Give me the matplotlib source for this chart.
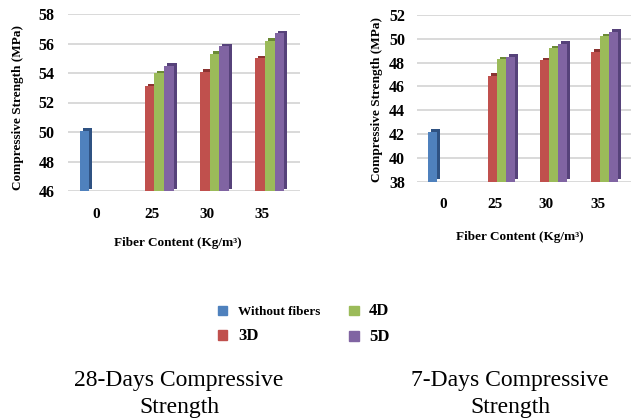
import matplotlib
matplotlib.use("Agg")
import matplotlib.pyplot as plt
import matplotlib.transforms as mtransforms
import numpy as np

plt.rcParams["font.family"] = ["Liberation Serif", "DejaVu Serif"]

# --- Daten ---
fiber_content = ["0", "25", "30", "35"]
series_names = ["Without fibers", "3D", "4D", "5D"]

# 28 Tage
d28_without = [50.1]          # nur bei 0 kg/m3
d28_3d = [53.1, 54.1, 55.0]   # bei 25 / 30 / 35
d28_4d = [54.0, 55.3, 56.2]
d28_5d = [54.5, 55.8, 56.7]

# 7 Tage
d7_without = [42.2]
d7_3d = [46.9, 48.2, 48.9]
d7_4d = [48.3, 49.2, 50.2]
d7_5d = [48.5, 49.6, 50.6]

farben = ["#4F81BD", "#C0504D", "#9BBB59", "#8064A2"]
seiten = ["#2f5282", "#8a3331", "#6b8a35", "#56427a"]

H = 418


def bar_3d(ax, fig, x, werte, basis, farbe, seite, breite):
    # dunkle "Seiten/Deckflaeche" leicht nach rechts oben versetzt
    schatten = mtransforms.offset_copy(ax.transData, fig=fig, x=3, y=2.5, units="dots")
    ax.bar(x, np.array(werte) - basis, bottom=basis, width=breite, color=seite,
           transform=schatten, zorder=2)
    ax.bar(x, np.array(werte) - basis, bottom=basis, width=breite, color=farbe,
           zorder=3)


def zeichne(ax, fig, ohne, s3, s4, s5, ylim, ytick_pad, xtick_pad):
    breite = 0.175
    offs = (np.arange(4) - 1.5) * breite
    basis = ylim[0]
    x_ohne = np.arange(len(ohne))
    x_mit = np.arange(1, len(fiber_content))
    bar_3d(ax, fig, x_ohne + offs[0], ohne, basis, farben[0], seiten[0], breite)
    for i, serie in enumerate([s3, s4, s5], start=1):
        bar_3d(ax, fig, x_mit + offs[i], serie, basis, farben[i], seiten[i], breite)

    ax.set_ylim(*ylim)
    ax.set_yticks(np.arange(ylim[0], ylim[1] + 1, 2))
    ax.set_xticks(np.arange(len(fiber_content)) - 0.05)
    ax.set_xticklabels(fiber_content)
    ax.yaxis.grid(True, color="#d9d9d9", lw=1.4)
    ax.set_axisbelow(True)
    for sp in ax.spines.values():
        sp.set_visible(False)
    ax.tick_params(axis="y", length=0, pad=ytick_pad, labelsize=11.5)
    ax.tick_params(axis="x", length=0, pad=xtick_pad, labelsize=11)
    for lbl in ax.get_xticklabels() + ax.get_yticklabels():
        lbl.set_fontweight("bold")


fig = plt.figure(figsize=(6.31, 4.18), dpi=100)

ax1 = fig.add_axes([68 / 631, 1 - 191 / H, (300 - 68) / 631, (191 - 14) / H])
zeichne(ax1, fig, d28_without, d28_3d, d28_4d, d28_5d, (46, 58), 9.5, 12.5)
ax1.set_xlim(-0.56, 3.63)

ax2 = fig.add_axes([417 / 631, 1 - 181.7 / H, (631 - 417) / 631, (181.7 - 15) / H])
zeichne(ax2, fig, d7_without, d7_3d, d7_4d, d7_5d, (38, 52), 8.5, 12)
ax2.set_xlim(-0.565, 3.6)

# Achsenbeschriftungen
fig.text(18 / 631, 1 - 107 / H, "Compressive Strength (MPa)", rotation=90,
         ha="center", va="center", fontsize=9.5, fontweight="bold")
fig.text(377 / 631, 1 - 100 / H, "Compressive Strength (MPa)", rotation=90,
         ha="center", va="center", fontsize=9.5, fontweight="bold")
fig.text(178 / 631, 1 - 243 / H, "Fiber Content (Kg/m³)",
         ha="center", va="center", fontsize=9.5, fontweight="bold")
fig.text(520 / 631, 1 - 237 / H, "Fiber Content (Kg/m³)",
         ha="center", va="center", fontsize=9.5, fontweight="bold")

# Legende
handles = [plt.Rectangle((0, 0), 1, 1, color=c) for c in farben]
leg = fig.legend(handles, series_names, ncol=2, loc="center",
                 bbox_to_anchor=(304 / 631, 1 - 324 / H), frameon=False,
                 handlelength=0.7, handleheight=0.7, handletextpad=0.8,
                 columnspacing=2.2, labelspacing=0.7,
                 prop={"weight": "bold", "size": 9.5})
for txt in leg.get_texts()[1:]:
    txt.set_fontsize(12)

# Untertitel
fig.text(179 / 631, 1 - 394 / H, "28-Days Compressive\nStrength",
         ha="center", va="center", fontsize=17, linespacing=1.4)
fig.text(510 / 631, 1 - 394 / H, "7-Days Compressive\nStrength",
         ha="center", va="center", fontsize=17, linespacing=1.4)

fig.savefig("out.png", dpi=100)
